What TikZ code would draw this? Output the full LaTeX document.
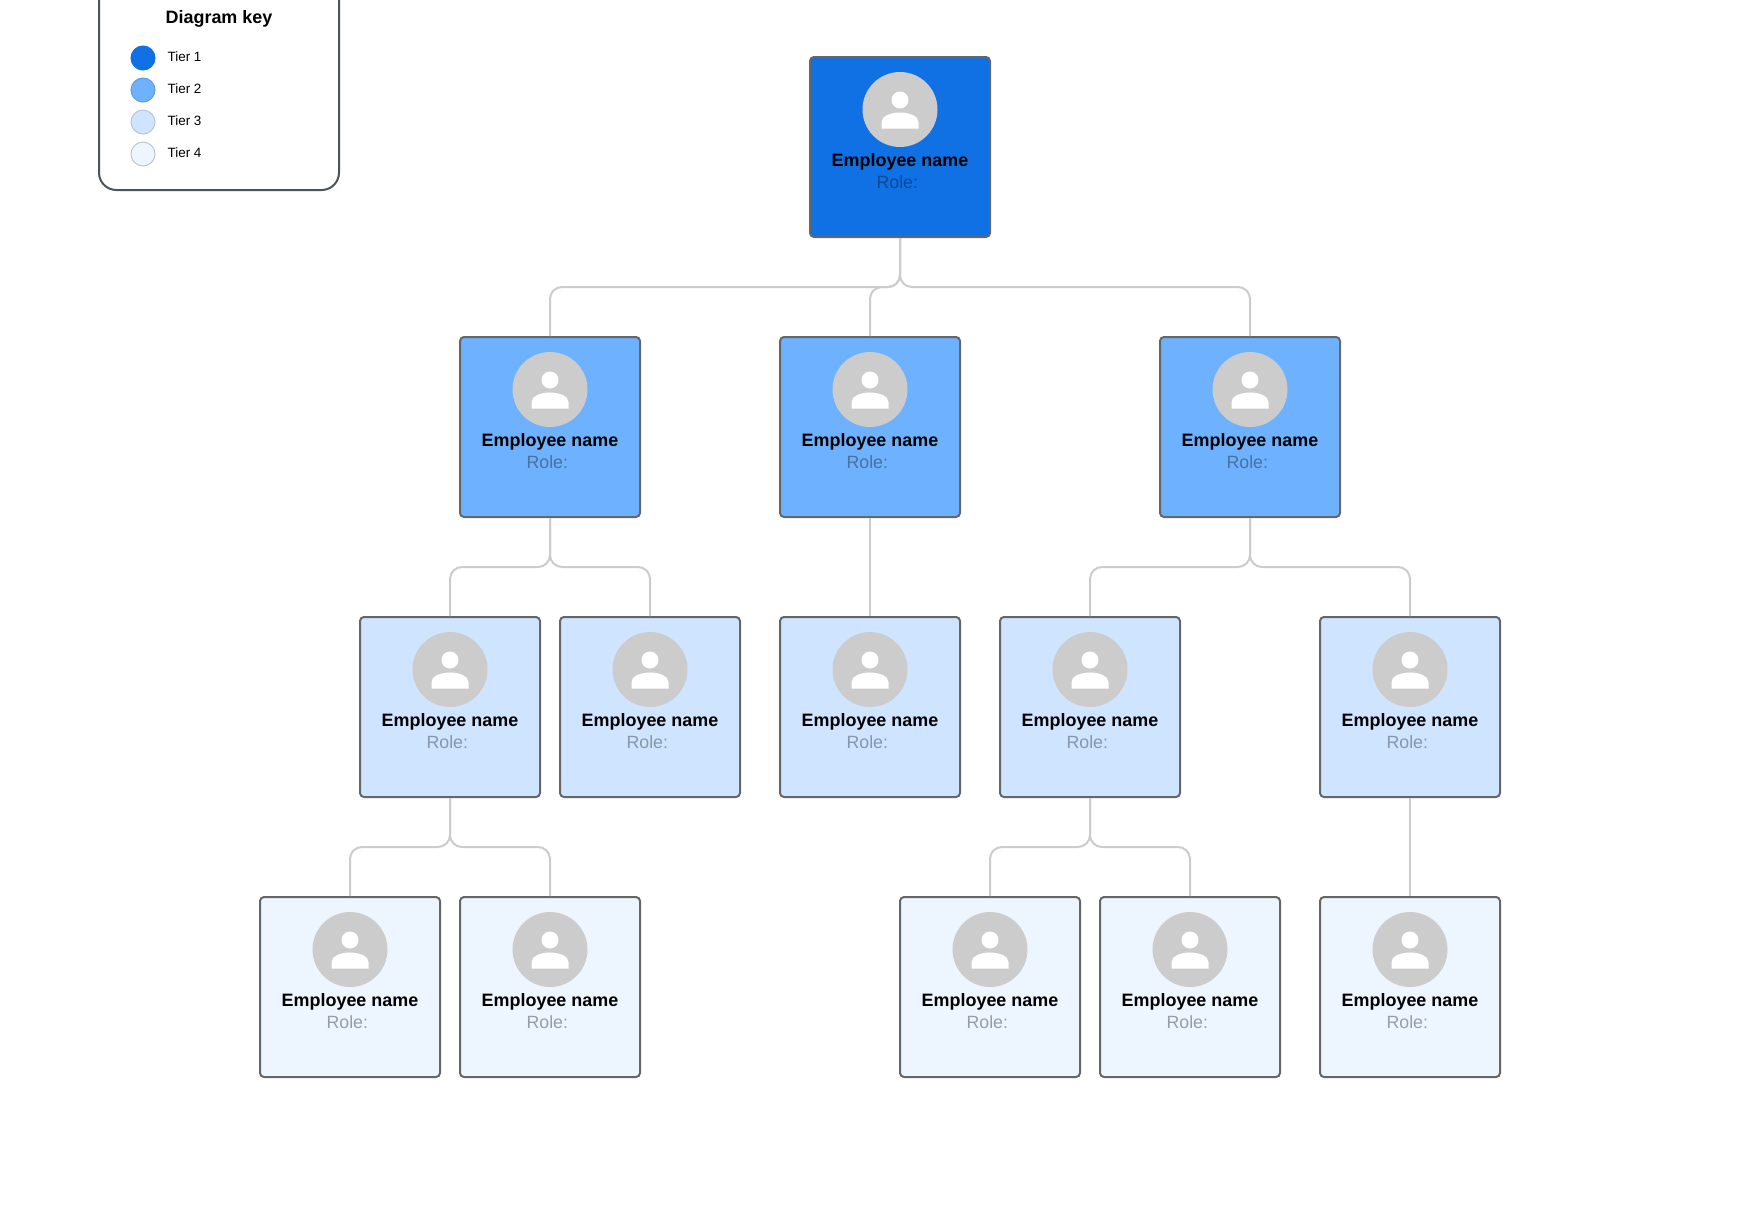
\documentclass[tikz,border=0pt]{standalone}
\usepackage{fontspec}
\setmainfont{Liberation Sans}
\definecolor{tierone}{HTML}{1071E5}
\definecolor{tiertwo}{HTML}{6DB1FF}
\definecolor{tierthree}{HTML}{CFE4FF}
\definecolor{tierfour}{HTML}{EDF5FF}
\definecolor{roleone}{HTML}{0B4A98}
\definecolor{roletwo}{HTML}{46739F}
\definecolor{rolethree}{HTML}{8696AB}
\definecolor{rolefour}{HTML}{969DA7}
\definecolor{cardedge}{HTML}{666666}
\definecolor{keyedge}{HTML}{4C535D}
\definecolor{linkgray}{HTML}{CCCCCC}
\tikzset{
  card/.style={draw=cardedge, line width=1.5pt, rounded corners=3pt, minimum size=135pt, inner sep=0pt},
  staffname/.style={font=\fontsize{13.45}{16}\selectfont\bfseries, anchor=base, inner sep=0pt},
  staffrole/.style={font=\fontsize{13.3}{16}\selectfont, anchor=base, inner sep=0pt},
  link/.style={draw=linkgray, line width=1.5pt, rounded corners=9pt},
  keybox/.style={draw=keyedge, line width=1.5pt, rounded corners=13pt, minimum width=180pt, minimum height=187.5pt, inner sep=0pt},
  keytitle/.style={font=\fontsize{13.45}{16}\selectfont\bfseries, anchor=base, inner sep=0pt},
  keydot/.style={circle, line width=0.75pt, minimum size=18pt, inner sep=0pt},
  keytext/.style={font=\fontsize{10.1}{12}\selectfont, anchor=base west, inner sep=0pt},
  avatar/.pic={
    \fill[linkgray] (0,0) circle (37.5);
    \fill[white] (0,-9.5) circle (8.5);
    \fill[white] (-18.5,19) -- (-18.5,12.5) .. controls (-18.5,7) and (-10,3) .. (0,3)
      .. controls (10,3) and (18.5,7) .. (18.5,12.5) -- (18.5,19) -- cycle;
  }
}
% card: name, centre x, top y, fill, role colour
\newcommand{\staffcard}[5]{
  \node[card, fill=#4] (#1) at (#2,#3+90) {};
  \pic at (#2,#3+52.5) {avatar};
  \node[staffname] (#1name) at (#2,#3+109.7) {Employee name};
  \node[staffrole, #5] (#1role) at (#2-2.7,#3+131) {Role:};
}
\begin{document}
\begin{tikzpicture}[x=0.75pt, y=-0.75pt]
  \useasboundingbox (0,0) rectangle (1760,1217);
  \clip (0,0) rectangle (1760,1217);
  % key
  \node[keybox] (key) at (219,65) {};
  \node[keytitle] (keyhead) at (219,23.3) {Diagram key};
  \node[keydot, fill=tierone, draw=tierone] (dotone) at (143,58) {};
  \node[keydot, fill=tiertwo, draw=tiertwo!88!black] (dottwo) at (143,90) {};
  \node[keydot, fill=tierthree, draw=tierthree!70!gray] (dotthree) at (143,122) {};
  \node[keydot, fill=tierfour, draw=tierfour!60!gray] (dotfour) at (143,154) {};
  \node[keytext] (textone) at (167.3,61) {Tier 1};
  \node[keytext] (texttwo) at (167.3,93) {Tier 2};
  \node[keytext] (textthree) at (167.3,125) {Tier 3};
  \node[keytext] (textfour) at (167.3,157) {Tier 4};
  % tiers
  \staffcard{top}{900}{57}{tierone}{roleone}
  \staffcard{left}{550}{337}{tiertwo}{roletwo}
  \staffcard{mid}{870}{337}{tiertwo}{roletwo}
  \staffcard{right}{1250}{337}{tiertwo}{roletwo}
  \staffcard{lefta}{450}{617}{tierthree}{rolethree}
  \staffcard{leftb}{650}{617}{tierthree}{rolethree}
  \staffcard{midc}{870}{617}{tierthree}{rolethree}
  \staffcard{righta}{1090}{617}{tierthree}{rolethree}
  \staffcard{rightb}{1410}{617}{tierthree}{rolethree}
  \staffcard{leftaa}{350}{897}{tierfour}{rolefour}
  \staffcard{leftab}{550}{897}{tierfour}{rolefour}
  \staffcard{rightaa}{990}{897}{tierfour}{rolefour}
  \staffcard{rightab}{1190}{897}{tierfour}{rolefour}
  \staffcard{rightbb}{1410}{897}{tierfour}{rolefour}
  % levels
  \coordinate (busone) at (0,287);
  \coordinate (bustwo) at (0,567);
  \coordinate (busthree) at (0,847);
  % links
  \draw[link] (top.south) -- (top.south |- busone) -| (left.north);
  \draw[link] (top.south) -- (top.south |- busone) -| (mid.north);
  \draw[link] (top.south) -- (top.south |- busone) -| (right.north);
  \draw[link] (left.south) -- (left.south |- bustwo) -| (lefta.north);
  \draw[link] (left.south) -- (left.south |- bustwo) -| (leftb.north);
  \draw[link] (mid.south) -- (midc.north);
  \draw[link] (right.south) -- (right.south |- bustwo) -| (righta.north);
  \draw[link] (right.south) -- (right.south |- bustwo) -| (rightb.north);
  \draw[link] (lefta.south) -- (lefta.south |- busthree) -| (leftaa.north);
  \draw[link] (lefta.south) -- (lefta.south |- busthree) -| (leftab.north);
  \draw[link] (righta.south) -- (righta.south |- busthree) -| (rightaa.north);
  \draw[link] (righta.south) -- (righta.south |- busthree) -| (rightab.north);
  \draw[link] (rightb.south) -- (rightbb.north);
\end{tikzpicture}
\end{document}
